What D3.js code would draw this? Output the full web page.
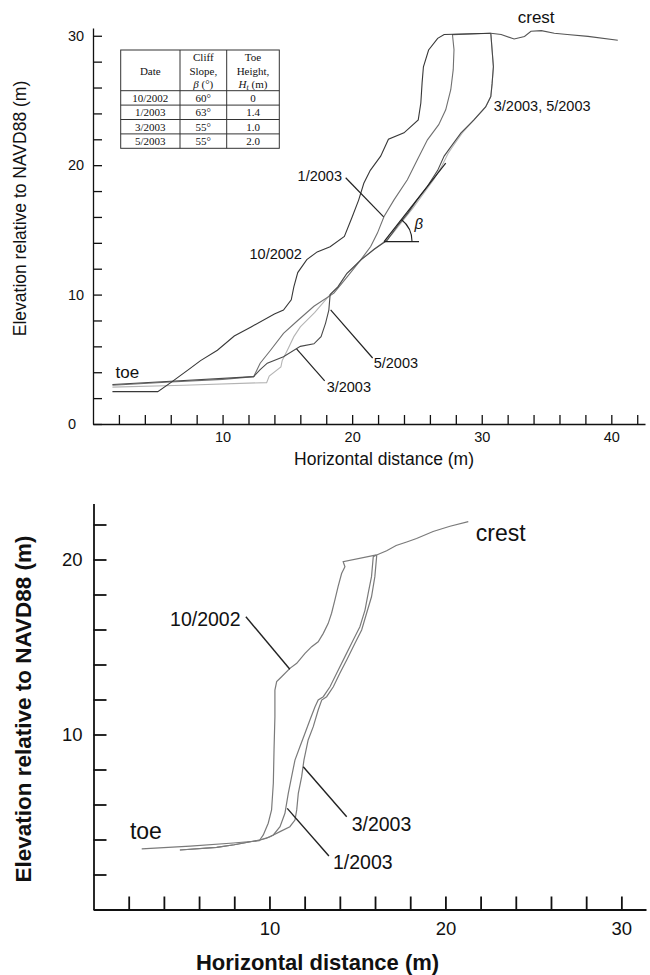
<!DOCTYPE html>
<html>
<head>
<meta charset="utf-8">
<script src="https://cdn.jsdelivr.net/npm/d3@7"></script>
<style>
body { margin: 0; background: #fff; }
svg { display: block; }
text { font-family: "Liberation Sans", Arial, sans-serif; fill: #111; }
.tbl text { font-family: "Liberation Serif", "Times New Roman", serif; font-size: 11px; }
</style>
</head>
<body>
<div id="chart"></div>
<script>
// ---- top panel: profiles (horizontal distance m, elevation m) ----
var top10_2002 = [[1.5,2.5],[5.0,2.5],[6.0,3.2],[7.5,4.3],[8.3,4.9],[9.6,5.7],[10.9,6.8],[12.2,7.5],[14.0,8.5],[14.7,8.8],[15.3,9.6],[15.5,10.6],[15.8,11.7],[16.5,12.7],[17.3,13.3],[18.3,13.7],[19.4,14.5],[20.0,16.0],[20.5,17.3],[20.9,18.6],[21.4,19.6],[22.2,20.7],[22.8,22.0],[24.0,22.5],[25.1,23.5],[25.3,24.8],[25.4,26.4],[25.5,27.6],[25.9,28.9],[26.6,29.8],[27.1,30.1],[30.7,30.2]];
var top1_2003 = [[1.5,3.0],[6.0,3.25],[10.0,3.45],[12.4,3.66],[12.9,4.7],[13.7,5.7],[14.7,7.0],[15.8,8.0],[17.05,9.1],[18.59,10.11],[19.63,11.39],[20.66,12.68],[21.43,13.71],[21.95,14.75],[22.46,16.03],[23.23,17.32],[24.26,18.87],[25.03,20.42],[25.81,21.96],[26.68,23.13],[27.22,24.28],[27.61,25.83],[27.8,27.38],[27.86,28.93],[27.74,30.09],[30.7,30.2]];
var top3_2003 = [[1.5,2.85],[7.0,3.0],[13.4,3.2],[13.6,3.7],[14.5,4.4],[14.6,4.9],[15.0,5.7],[15.5,6.75],[16.0,7.5],[17.1,8.6],[18.3,10.0],[18.9,10.6],[19.6,11.65],[20.7,12.7],[21.7,13.5],[22.5,14.1],[23.1,14.7],[23.9,15.7],[24.7,16.7],[25.5,17.8],[26.3,18.9],[26.9,19.9],[27.4,20.9],[27.8,21.5],[28.5,22.5],[29.4,23.5],[30.3,24.5],[30.7,25.3],[30.8,26.3],[30.9,27.6],[30.8,28.9],[30.7,30.2]];
var top5_2003 = [[1.5,3.05],[6.0,3.3],[12.4,3.66],[12.9,4.2],[13.45,4.7],[14.7,5.2],[16.0,6.0],[17.05,6.2],[17.6,6.75],[17.95,7.8],[18.2,8.8],[18.3,10.0],[18.9,10.6],[19.6,11.65],[20.7,12.7],[21.7,13.5],[22.7,14.2],[23.5,15.3],[24.3,16.3],[25.0,17.3],[25.8,18.35],[26.6,19.6],[27.1,20.7],[27.6,21.4],[28.4,22.5],[29.4,23.5],[30.3,24.5],[30.7,25.3],[30.8,26.3],[30.9,27.6],[30.8,28.9],[30.7,30.2]];
var crestTop = [[30.7,30.2],[31.5,30.1],[32.5,29.75],[33.3,29.95],[33.8,30.35],[34.6,30.4],[35.6,30.2],[36.6,30.1],[38.2,29.95],[40.5,29.65]];

// slope tangent drawn for beta (start, end of line, end of horizontal leg)
var betaLine = [[22.46,14.1],[27.22,20.16]];
var betaBase = [[22.46,14.1],[25.16,14.1]];

// top panel table
var tableDates = ["10/2002","1/2003","3/2003","5/2003"];
var tableSlopes = ["60°","63°","55°","55°"];
var tableToe = ["0","1.4","1.0","2.0"];

// top panel axes
var topXLabels = [10, 20, 30, 40];
var topYLabels = [0, 10, 20, 30];

// top panel labels and leader lines (data coords)
var topLabels = [
  {t: "crest", x: 32.78, y: 31.0, big: true},
  {t: "toe", x: 1.74, y: 3.56, big: true},
  {t: "3/2003, 5/2003", x: 30.93, y: 24.21},
  {t: "1/2003", x: 15.79, y: 18.79},
  {t: "10/2002", x: 12.08, y: 12.76},
  {t: "5/2003", x: 21.66, y: 4.33},
  {t: "3/2003", x: 18.03, y: 2.47}
];
var topLeaders = [
  [[19.5,19.03],[22.43,16.01]],
  [[18.34,8.82],[21.58,5.1]],
  [[15.71,5.8],[17.88,3.33]]
];

// ---- bottom panel ----
var bot10_2002 = [[2.74,3.46],[5.5,3.62],[7.95,3.8],[9.42,3.93],[9.65,4.26],[9.93,4.93],[10.12,5.69],[10.22,7.21],[10.26,9.11],[10.31,11.02],[10.31,12.54],[10.41,13.02],[10.69,13.3],[11.16,13.78],[11.55,14.07],[12.02,14.64],[12.4,15.02],[12.77,15.3],[13.06,15.78],[13.34,16.35],[13.53,16.93],[13.72,17.69],[13.9,18.45],[14.1,19.2],[14.29,19.59],[14.19,19.87],[16.09,20.26]];
var bot1_2003 = [[4.91,3.4],[7.0,3.55],[8.0,3.7],[9.46,3.97],[9.84,4.07],[10.22,4.26],[10.6,4.73],[10.88,5.5],[11.07,6.64],[11.26,7.59],[11.45,8.54],[11.73,9.3],[12.02,10.07],[12.3,10.83],[12.59,11.59],[12.77,11.97],[13.06,12.16],[13.44,12.73],[13.82,13.5],[14.29,14.45],[14.76,15.4],[15.14,16.16],[15.43,17.11],[15.61,18.07],[15.8,19.02],[15.9,20.16],[16.09,20.26]];
var bot3_2003 = [[4.91,3.4],[7.0,3.55],[8.0,3.7],[9.46,3.97],[10.03,4.16],[10.6,4.45],[11.16,4.73],[11.45,5.11],[11.55,5.69],[11.64,6.64],[11.83,7.59],[11.96,8.54],[12.2,9.69],[12.49,10.45],[12.77,11.4],[12.97,11.97],[13.25,12.16],[13.63,12.73],[14.0,13.5],[14.39,14.26],[14.86,15.21],[15.24,15.97],[15.52,16.93],[15.8,17.87],[15.99,19.02],[16.09,20.16],[16.09,20.26]];
var crestBot = [[16.09,20.26],[16.66,20.5],[17.2,20.8],[17.8,21.0],[18.36,21.2],[19.3,21.6],[20.26,21.9],[21.3,22.16]];

var botXLabels = [10, 20, 30];
var botYLabels = [10, 20];

var botLabels = [
  {t: "crest", x: 21.73, y: 21.06, big: true},
  {t: "toe", x: 2.07, y: 4.03, big: true},
  {t: "10/2002", x: 4.35, y: 16.2},
  {t: "3/2003", x: 14.67, y: 4.49},
  {t: "1/2003", x: 13.61, y: 2.31}
];
var botLeaders = [
  [[8.66,16.73],[11.16,13.73]],
  [[11.92,8.16],[14.39,5.3]],
  [[11.01,5.78],[13.38,3.06]]
];

// ---- drawing ----
var svg = d3.select("#chart").append("svg")
    .attr("width", 650)
    .attr("height", 975);

//scales
var xTop = d3.scaleLinear().domain([0, 42.6]).range([93, 645]);
var yTop = d3.scaleLinear().domain([0, 30.6]).range([424, 28]);
var xBot = d3.scaleLinear().domain([0, 31.4]).range([93.5, 646]);
var yBot = d3.scaleLinear().domain([0, 23.2]).range([909.5, 503.5]);

function drawAxes(x, y, o) {
    var xAxis = d3.axisBottom(x)
        .tickValues(d3.range(2, x.domain()[1], 2))
        .tickSizeInner(-o.tick).tickSizeOuter(0).tickPadding(o.xPad)
        .tickFormat(d => o.xLabels.includes(d) ? d : "");
    var yAxis = d3.axisLeft(y)
        .tickValues(d3.range(0, y.domain()[1], 2))
        .tickSizeInner(-o.tick).tickSizeOuter(0).tickPadding(o.yPad)
        .tickFormat(d => o.yLabels.includes(d) ? d : "");

    var gx = svg.append("g")
        .attr("transform", `translate(0, ${y(0)})`)
        .call(xAxis);
    var gy = svg.append("g")
        .attr("transform", `translate(${x(0)}, 0)`)
        .call(yAxis);

    [gx, gy].forEach(function(g) {
        g.select(".domain").attr("stroke", "#111").attr("stroke-width", o.sw);
        g.selectAll(".tick line").attr("stroke", "#111").attr("stroke-width", o.sw);
        g.selectAll(".tick text")
            .attr("fill", "#111")
            .style("font-family", '"Liberation Sans", Arial, sans-serif')
            .style("font-size", o.font + "px");
    });
    return gy;
}

var gyTop = drawAxes(xTop, yTop, {tick: 9, xPad: 8, yPad: 10, sw: 1.3, font: 14.5, xLabels: topXLabels, yLabels: topYLabels});
// top y labels are left aligned
gyTop.selectAll(".tick text").attr("text-anchor", "start").attr("x", -25);
drawAxes(xBot, yBot, {tick: 13, xPad: 12, yPad: 11, sw: 1.8, font: 18.5, xLabels: botXLabels, yLabels: botYLabels});

// axis titles
svg.append("text")
    .attr("x", 384).attr("y", 465)
    .attr("text-anchor", "middle")
    .style("font-size", "17.5px")
    .text("Horizontal distance (m)");
svg.append("text")
    .attr("transform", "translate(26, 208.5) rotate(-90)")
    .attr("text-anchor", "middle")
    .style("font-size", "17.5px")
    .text("Elevation relative to NAVD88 (m)");
svg.append("text")
    .attr("x", 317.5).attr("y", 970)
    .attr("text-anchor", "middle")
    .style("font-size", "22px").style("font-weight", "bold")
    .text("Horizontal distance (m)");
svg.append("text")
    .attr("transform", "translate(31, 709) rotate(-90)")
    .attr("text-anchor", "middle")
    .style("font-size", "22.5px").style("font-weight", "bold")
    .text("Elevation relative to NAVD88 (m)");

// profiles
var lineTop = d3.line().x(d => xTop(d[0])).y(d => yTop(d[1]));
var lineBot = d3.line().x(d => xBot(d[0])).y(d => yBot(d[1]));

var topProfiles = [
    {d: top3_2003, c: "#b4b4b4"},
    {d: top1_2003, c: "#707070"},
    {d: top5_2003, c: "#4a4a4a"},
    {d: top10_2002, c: "#383838"},
    {d: crestTop, c: "#555"}
];
svg.append("g").selectAll("path")
    .data(topProfiles)
    .enter()
    .append("path")
        .attr("d", p => lineTop(p.d))
        .attr("fill", "none")
        .attr("stroke", p => p.c)
        .attr("stroke-width", 1.1);

var botProfiles = [bot10_2002, bot1_2003, bot3_2003, crestBot];
svg.append("g").selectAll("path")
    .data(botProfiles)
    .enter()
    .append("path")
        .attr("d", d => lineBot(d))
        .attr("fill", "none")
        .attr("stroke", "#7a7a7a")
        .attr("stroke-width", 1.2);

// beta construction
svg.append("path").attr("d", lineTop(betaLine)).attr("stroke", "#222").attr("stroke-width", 1.2).attr("fill", "none");
svg.append("path").attr("d", lineTop(betaBase)).attr("stroke", "#222").attr("stroke-width", 1.2).attr("fill", "none");
var bx0 = xTop(betaLine[0][0]), by0 = yTop(betaLine[0][1]);
var ang = Math.atan2(by0 - yTop(betaLine[1][1]), xTop(betaLine[1][0]) - bx0);
var r = 28;
svg.append("path")
    .attr("d", `M${bx0 + r},${by0} A${r},${r} 0 0 0 ${bx0 + r * Math.cos(ang)},${by0 - r * Math.sin(ang)}`)
    .attr("fill", "none").attr("stroke", "#222").attr("stroke-width", 1.1);
svg.append("text")
    .attr("x", xTop(25.14)).attr("y", yTop(15.08))
    .attr("text-anchor", "middle")
    .style("font-size", "15px").style("font-style", "italic")
    .text("β");

// labels and leader lines
svg.append("g").selectAll("text")
    .data(topLabels)
    .enter()
    .append("text")
        .attr("x", d => xTop(d.x))
        .attr("y", d => yTop(d.y))
        .style("font-size", d => d.big ? "17px" : "14.5px")
        .text(d => d.t);
svg.append("g").selectAll("path")
    .data(topLeaders)
    .enter()
    .append("path")
        .attr("d", d => lineTop(d))
        .attr("stroke", "#222").attr("stroke-width", 1.2);

svg.append("g").selectAll("text")
    .data(botLabels)
    .enter()
    .append("text")
        .attr("x", d => xBot(d.x))
        .attr("y", d => yBot(d.y))
        .style("font-size", d => d.big ? "23px" : "19.5px")
        .text(d => d.t);
svg.append("g").selectAll("path")
    .data(botLeaders)
    .enter()
    .append("path")
        .attr("d", d => lineBot(d))
        .attr("stroke", "#222").attr("stroke-width", 1.4);

// table
var tbl = svg.append("g").attr("class", "tbl");
var tx = [120.7, 180, 226.7, 279.3];
var ty = [50, 90.7, 105.1, 119.5, 133.9, 148.3];
tbl.append("rect")
    .attr("x", tx[0]).attr("y", ty[0])
    .attr("width", tx[3] - tx[0]).attr("height", ty[5] - ty[0])
    .attr("fill", "#fff").attr("stroke", "#333").attr("stroke-width", 1);
[tx[1], tx[2]].forEach(function(v) {
    tbl.append("line").attr("x1", v).attr("x2", v).attr("y1", ty[0]).attr("y2", ty[5])
        .attr("stroke", "#333").attr("stroke-width", 1);
});
ty.slice(1, 5).forEach(function(v) {
    tbl.append("line").attr("x1", tx[0]).attr("x2", tx[3]).attr("y1", v).attr("y2", v)
        .attr("stroke", "#333").attr("stroke-width", 1);
});
var cx = [150.3, 203.3, 253];
tbl.append("text").attr("x", cx[0]).attr("y", 74.5).attr("text-anchor", "middle").text("Date");
tbl.append("text").attr("x", cx[1]).attr("y", 61).attr("text-anchor", "middle").text("Cliff");
tbl.append("text").attr("x", cx[1]).attr("y", 74.5).attr("text-anchor", "middle").text("Slope,");
var h1 = tbl.append("text").attr("x", cx[1]).attr("y", 88).attr("text-anchor", "middle");
h1.append("tspan").style("font-style", "italic").text("β");
h1.append("tspan").text(" (°)");
tbl.append("text").attr("x", cx[2]).attr("y", 61).attr("text-anchor", "middle").text("Toe");
tbl.append("text").attr("x", cx[2]).attr("y", 74.5).attr("text-anchor", "middle").text("Height,");
var h2 = tbl.append("text").attr("x", cx[2]).attr("y", 88).attr("text-anchor", "middle");
h2.append("tspan").style("font-style", "italic").text("H");
h2.append("tspan").style("font-style", "italic").style("font-size", "8px").attr("dy", 2).text("t");
h2.append("tspan").attr("dy", -2).text(" (m)");

var cols = [tableDates, tableSlopes, tableToe];
cols.forEach(function(col, ci) {
    tbl.selectAll(".c" + ci)
        .data(col)
        .enter()
        .append("text")
            .attr("x", cx[ci])
            .attr("y", (d, i) => ty[i + 1] + 11.3)
            .attr("text-anchor", "middle")
            .text(d => d);
});
</script>
</body>
</html>
